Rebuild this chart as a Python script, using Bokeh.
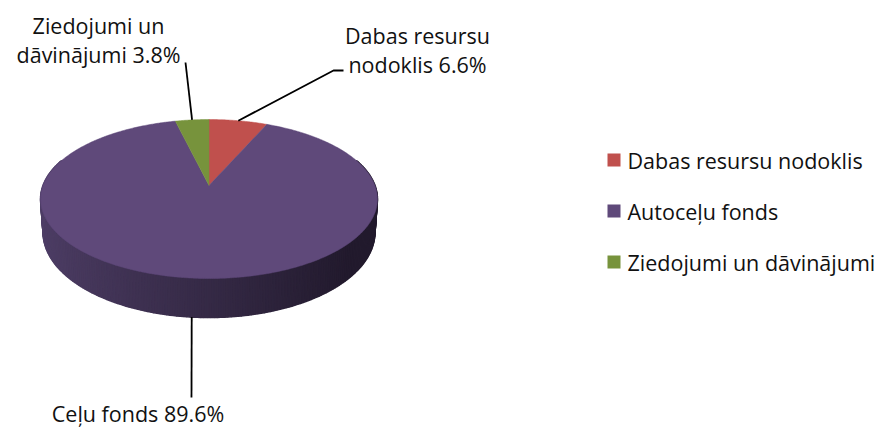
import textwrap
import numpy as np
from bokeh.plotting import figure
from bokeh.models import Range1d
from bokeh.core.properties import value
from bokeh.embed import file_html
from bokeh.resources import INLINE

# ---------------- data ----------------
categories = ["Dabas resursu nodoklis", "Autoceļu fonds", "Ziedojumi un dāvinājumi"]
shares = [6.6, 89.6, 3.8]
label_names = ["Dabas resursu nodoklis", "Ceļu fonds", "Ziedojumi un dāvinājumi"]
colors = ["#C0504D", "#5F497A", "#77933C"]

# ---------------- layout / style ----------------
FONT = "Open Sans"
FSIZE = "21.5px"
TXT_DY = -7                    # baseline correction for rendered text
CX, CY = 208.5, 185.0          # projected pie centre
R, RB, C = 166.0, 77.2, 0.17   # radius, squashed radius, perspective
DEPTH = 32.4
SHRINK = 0.985
label_wrap = [15, 20, 15]
label_anchor_pos = [(417, 42), (137.5, 420), (98, 32)]
label_elbows = [[(333, 70), (343, 70)], [(191, 397)], [(185, 62)]]
LINE_GAP = 29

p = figure(width=887, height=430, output_backend="svg", toolbar_location=None,
           x_range=Range1d(0, 887), y_range=Range1d(430, 0),
           min_border=0, x_axis_location=None, y_axis_location=None)
p.grid.visible = False
p.outline_line_color = None
p.background_fill_color = "white"
p.border_fill_color = "white"


def proj(theta_deg, drop=0.0, shrink=1.0):
    t = np.radians(theta_deg)
    u, v = np.sin(t), -np.cos(t)
    k = 1.0 / (1.0 - C * v)
    return CX + R * u * k * shrink, CY + (RB * v + drop) * k


total = sum(shares)
bounds = []
acc = 0.0
for s in shares:
    a0 = acc / total * 360.0
    acc += s
    a1 = acc / total * 360.0
    bounds.append((a0, a1))


def shade(u):
    f = (u + 1) / 2.0
    light = np.array([78, 62, 102])
    dark = np.array([34, 26, 45])
    c = light + (dark - light) * min(1.0, f * 1.15)
    return "#%02x%02x%02x" % tuple(int(round(x)) for x in c)


# side of the cylinder (front part only)
sx, sy, sc = [], [], []
for (a0, a1), col in zip(bounds, colors):
    lo, hi = max(a0, 70.0), min(a1, 290.0)
    if hi <= lo:
        continue
    angs = np.linspace(lo, hi, int((hi - lo) / 1.0) + 2)
    for t1, t2 in zip(angs[:-1], angs[1:]):
        x1, y1 = proj(t1)
        x2, y2 = proj(t2)
        x3, y3 = proj(t2, DEPTH, SHRINK)
        x4, y4 = proj(t1, DEPTH, SHRINK)
        sx.append([x1, x2, x3, x4])
        sy.append([y1, y2, y3, y4])
        sc.append(shade(np.sin(np.radians((t1 + t2) / 2))))
p.patches(sx, sy, fill_color=sc, line_color=sc, line_width=1.5)

# top face
tx, ty = [], []
for (a0, a1) in bounds:
    angs = np.linspace(a0, a1, max(3, int(a1 - a0) * 2))
    ax, ay = proj(angs)
    tx.append([CX] + list(ax))
    ty.append([CY] + list(ay))
p.patches(tx, ty, fill_color=colors, line_color=colors, line_width=0.5)

# data labels with leader lines
for i, ((a0, a1), name, s) in enumerate(zip(bounds, label_names, shares)):
    mid = (a0 + a1) / 2
    v = -np.cos(np.radians(mid))
    ax, ay = proj(mid, DEPTH if v > 0.5 else 0.0, SHRINK if v > 0.5 else 1.0)
    pts = [(ax, ay)] + label_elbows[i]
    p.line([q[0] for q in pts], [q[1] for q in pts], line_color="black", line_width=1.8)
    lines = textwrap.wrap(f"{name} {s}%", label_wrap[i])
    lx, ly = label_anchor_pos[i]
    p.text([lx] * len(lines), [ly + TXT_DY + j * LINE_GAP for j in range(len(lines))], text=lines,
           text_font=value(FONT), text_font_size=FSIZE, text_color="#111111",
           text_align="center", text_baseline="alphabetic")

# legend
LEG_X, LEG_Y0, LEG_GAP, SW = 607, 159.5, 51, 13
for i, (cat, col) in enumerate(zip(categories, colors)):
    yc = LEG_Y0 + i * LEG_GAP
    p.rect([LEG_X + SW / 2], [yc], width=SW, height=SW, fill_color=col, line_color=None)
    p.text([LEG_X + 20], [yc + 7.5 + TXT_DY], text=[cat], text_font=value(FONT), text_font_size=FSIZE,
           text_color="#111111", text_align="left", text_baseline="alphabetic")

open("out.html", "w").write(file_html(p, INLINE))
